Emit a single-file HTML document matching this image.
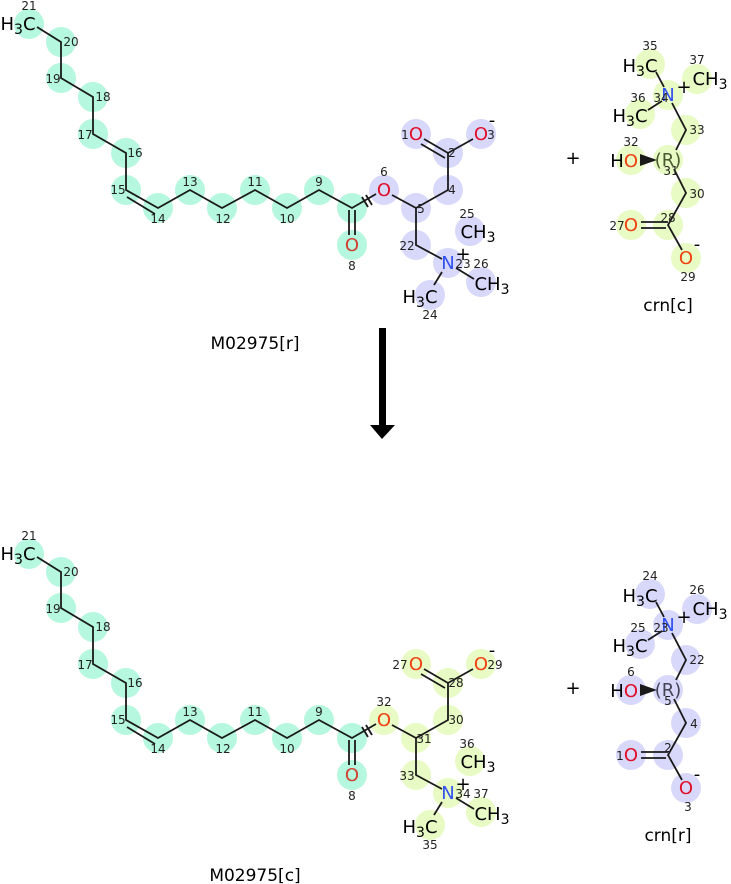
<!DOCTYPE html>
<html><head><meta charset="utf-8"><style>
html,body{margin:0;padding:0;background:#fff;}
svg{display:block;font-family:"DejaVu Sans","Liberation Sans",sans-serif;}
.b{stroke:#1a1a1a;stroke-width:1.8;fill:none;}
.n{font-size:12px;fill:#222;text-anchor:middle;}
.a{font-size:18px;fill:#000;text-anchor:middle;}
.o{fill:#e0102a;}
.oo{fill:#f04010;}
.nn{fill:#3050f0;}
.t{font-size:17px;fill:#000;text-anchor:middle;}
</style></head><body>
<svg width="731" height="884" viewBox="0 0 731 884" xmlns="http://www.w3.org/2000/svg">
<!-- ===== TOP MOLECULE ===== -->
<g>
<g fill="#b5f7df">
<circle cx="29" cy="24" r="15"/><circle cx="61" cy="42" r="15"/><circle cx="61" cy="78" r="15"/><circle cx="93" cy="97" r="15"/><circle cx="93" cy="134" r="15"/><circle cx="126" cy="153" r="15"/><circle cx="126" cy="190" r="15"/><circle cx="158" cy="208" r="15"/><circle cx="190" cy="190" r="15"/><circle cx="222" cy="208" r="15"/><circle cx="255" cy="190" r="15"/><circle cx="287" cy="208" r="15"/><circle cx="319" cy="190" r="15"/><circle cx="352" cy="208" r="15"/><circle cx="352" cy="245" r="15"/>
</g>
<g fill="#d8d8fa">
<circle cx="384" cy="190" r="15"/><circle cx="416" cy="208" r="15"/><circle cx="448" cy="190" r="15"/><circle cx="448" cy="153" r="15"/><circle cx="416" cy="134" r="15"/><circle cx="481" cy="134" r="15"/><circle cx="416" cy="245" r="15"/><circle cx="448" cy="263" r="15"/><circle cx="470" cy="231" r="15"/><circle cx="481" cy="282" r="15"/><circle cx="430" cy="295" r="15"/>
</g>
<polyline class="b" points="37,27 61,42 61,78 93,97 93,134 126,153 126,190 158,208 190,190 222,208 255,190 287,208 319,190 352,208 376,194"/>
<line class="b" x1="127" y1="197" x2="155" y2="214"/>
<line class="b" x1="349" y1="210" x2="349" y2="235"/><line class="b" x1="355" y1="210" x2="355" y2="235"/>
<line class="b" x1="362" y1="197" x2="368" y2="207"/><line class="b" x1="366" y1="195" x2="372" y2="205"/>
<polyline class="b" points="392,195 416,208 448,190 448,153 473,139"/>
<line class="b" x1="448" y1="153" x2="424" y2="139"/><line class="b" x1="445" y1="158" x2="421" y2="144"/>
<polyline class="b" points="416,208 416,245 442,259"/>
<line class="b" x1="442" y1="272" x2="434" y2="285"/>
<line class="b" x1="456" y1="268" x2="474" y2="279"/>
<text class="a" x="18" y="30">H<tspan font-size="14" dy="4">3</tspan><tspan dy="-4">C</tspan></text>
<text class="a o" x="416" y="140">O</text><text class="a o" x="481" y="140">O</text>
<text class="a" x="492" y="126" font-size="16">-</text>
<text class="a o" x="384" y="196">O</text>
<text class="a" style="fill:#d04030" x="352" y="251">O</text>
<text class="a nn" x="448" y="269">N</text>
<text class="a" x="463" y="260" font-size="18">+</text>
<text class="a" x="478" y="238">CH<tspan font-size="14" dy="4">3</tspan></text>
<text class="a" x="492" y="290">CH<tspan font-size="14" dy="4">3</tspan></text>
<text class="a" x="420" y="303">H<tspan font-size="14" dy="4">3</tspan><tspan dy="-4">C</tspan></text>
<g class="n">
<text x="29" y="10">21</text><text x="71" y="46">20</text><text x="53" y="83">19</text><text x="103" y="101">18</text><text x="85" y="139">17</text><text x="135" y="157">16</text><text x="118" y="194">15</text><text x="158" y="223">14</text><text x="190" y="186">13</text><text x="223" y="223">12</text><text x="255" y="186">11</text><text x="287" y="223">10</text><text x="319" y="186">9</text><text x="352" y="270">8</text><text x="384" y="176">6</text><text x="421" y="213">5</text><text x="452" y="194">4</text><text x="452" y="157">2</text><text x="405" y="139">1</text><text x="491" y="139">3</text><text x="467" y="218">25</text><text x="407" y="250">22</text><text x="463" y="268">23</text><text x="481" y="268">26</text><text x="430" y="319">24</text>
</g>
<text class="t" x="255" y="349">M02975[r]</text>
</g>

<!-- crn[c] -->
<text class="a" x="573" y="164" font-size="24">+</text>
<g fill="#e8fbc4">
<circle cx="650" cy="64" r="15"/><circle cx="697" cy="79" r="15"/><circle cx="668" cy="95" r="15"/><circle cx="640" cy="114" r="15"/><circle cx="686" cy="130" r="15"/><circle cx="668" cy="160" r="15"/><circle cx="631" cy="160" r="15"/><circle cx="686" cy="193" r="15"/><circle cx="668" cy="225" r="15"/><circle cx="631" cy="225" r="15"/><circle cx="686" cy="258" r="15"/>
</g>
<line class="b" x1="656" y1="72" x2="664" y2="87"/>
<line class="b" x1="648" y1="110" x2="662" y2="101"/>
<polyline class="b" points="672,103 686,130 676,150"/>
<polyline class="b" points="674,169 686,193 668,225 682,250"/>
<line class="b" x1="641" y1="222" x2="668" y2="222"/><line class="b" x1="641" y1="228" x2="666" y2="228"/>
<polygon points="640,154 640,166 657,160" fill="#1a1a1a"/>
<text class="a" x="640" y="72">H<tspan font-size="14" dy="4">3</tspan><tspan dy="-4">C</tspan></text>
<text class="a" x="630" y="122">H<tspan font-size="14" dy="4">3</tspan><tspan dy="-4">C</tspan></text>
<text class="a nn" x="668" y="101">N</text>
<text class="a" x="684" y="93">+</text>
<text class="a" x="710" y="85">CH<tspan font-size="14" dy="4">3</tspan></text>
<text class="a" x="617" y="167" style="fill:#000">H</text><text class="a oo" x="631" y="167">O</text>
<text class="a" x="668" y="166" font-size="16" style="fill:#4a5a30">(R)</text>
<text class="a oo" x="631" y="231">O</text><text class="a oo" x="686" y="264">O</text>
<text class="a" x="697" y="250" font-size="16">-</text>
<g class="n">
<text x="650" y="50">35</text><text x="697" y="64">37</text><text x="638" y="102">36</text><text x="661" y="102">34</text><text x="697" y="134">33</text><text x="631" y="146">32</text><text x="671" y="175">31</text><text x="697" y="198">30</text><text x="668" y="222">28</text><text x="617" y="230">27</text><text x="688" y="281">29</text>
</g>
<text class="t" x="668" y="311">crn[c]</text>

<!-- arrow -->
<rect x="379" y="328" width="7" height="99" fill="#000"/>
<polygon points="370,425 395,425 382,439" fill="#000"/>

<!-- ===== BOTTOM MOLECULE ===== -->
<g transform="translate(0,530)">
<g fill="#b5f7df">
<circle cx="29" cy="24" r="15"/><circle cx="61" cy="42" r="15"/><circle cx="61" cy="78" r="15"/><circle cx="93" cy="97" r="15"/><circle cx="93" cy="134" r="15"/><circle cx="126" cy="153" r="15"/><circle cx="126" cy="190" r="15"/><circle cx="158" cy="208" r="15"/><circle cx="190" cy="190" r="15"/><circle cx="222" cy="208" r="15"/><circle cx="255" cy="190" r="15"/><circle cx="287" cy="208" r="15"/><circle cx="319" cy="190" r="15"/><circle cx="352" cy="208" r="15"/><circle cx="352" cy="245" r="15"/>
</g>
<g fill="#e8fbc4">
<circle cx="384" cy="190" r="15"/><circle cx="416" cy="208" r="15"/><circle cx="448" cy="190" r="15"/><circle cx="448" cy="153" r="15"/><circle cx="416" cy="134" r="15"/><circle cx="481" cy="134" r="15"/><circle cx="416" cy="245" r="15"/><circle cx="448" cy="263" r="15"/><circle cx="470" cy="231" r="15"/><circle cx="481" cy="282" r="15"/><circle cx="430" cy="295" r="15"/>
</g>
<polyline class="b" points="37,27 61,42 61,78 93,97 93,134 126,153 126,190 158,208 190,190 222,208 255,190 287,208 319,190 352,208 376,194"/>
<line class="b" x1="127" y1="197" x2="155" y2="214"/>
<line class="b" x1="349" y1="210" x2="349" y2="235"/><line class="b" x1="355" y1="210" x2="355" y2="235"/>
<line class="b" x1="362" y1="197" x2="368" y2="207"/><line class="b" x1="366" y1="195" x2="372" y2="205"/>
<polyline class="b" points="392,195 416,208 448,190 448,153 473,139"/>
<line class="b" x1="448" y1="153" x2="424" y2="139"/><line class="b" x1="445" y1="158" x2="421" y2="144"/>
<polyline class="b" points="416,208 416,245 442,259"/>
<line class="b" x1="442" y1="272" x2="434" y2="285"/>
<line class="b" x1="456" y1="268" x2="474" y2="279"/>
<text class="a" x="18" y="30">H<tspan font-size="14" dy="4">3</tspan><tspan dy="-4">C</tspan></text>
<text class="a oo" x="416" y="140">O</text><text class="a oo" x="481" y="140">O</text>
<text class="a" x="492" y="126" font-size="16">-</text>
<text class="a oo" x="384" y="196">O</text>
<text class="a" style="fill:#d04030" x="352" y="251">O</text>
<text class="a nn" x="448" y="269">N</text>
<text class="a" x="463" y="260" font-size="18">+</text>
<text class="a" x="478" y="238">CH<tspan font-size="14" dy="4">3</tspan></text>
<text class="a" x="492" y="290">CH<tspan font-size="14" dy="4">3</tspan></text>
<text class="a" x="420" y="303">H<tspan font-size="14" dy="4">3</tspan><tspan dy="-4">C</tspan></text>
<g class="n">
<text x="29" y="10">21</text><text x="71" y="46">20</text><text x="53" y="83">19</text><text x="103" y="101">18</text><text x="85" y="139">17</text><text x="135" y="157">16</text><text x="118" y="194">15</text><text x="158" y="223">14</text><text x="190" y="186">13</text><text x="223" y="223">12</text><text x="255" y="186">11</text><text x="287" y="223">10</text><text x="319" y="186">9</text><text x="352" y="270">8</text><text x="384" y="176">32</text><text x="424" y="213">31</text><text x="456" y="194">30</text><text x="456" y="157">28</text><text x="400" y="139">27</text><text x="495" y="139">29</text><text x="467" y="218">36</text><text x="407" y="250">33</text><text x="463" y="268">34</text><text x="481" y="268">37</text><text x="430" y="319">35</text>
</g>
<text class="t" x="255" y="351">M02975[c]</text>
</g>

<!-- crn[r] -->
<text class="a" x="573" y="694" font-size="24">+</text>
<g transform="translate(0,530)">
<g fill="#d8d8fa">
<circle cx="650" cy="64" r="15"/><circle cx="697" cy="79" r="15"/><circle cx="668" cy="95" r="15"/><circle cx="640" cy="114" r="15"/><circle cx="686" cy="130" r="15"/><circle cx="668" cy="160" r="15"/><circle cx="631" cy="160" r="15"/><circle cx="686" cy="193" r="15"/><circle cx="668" cy="225" r="15"/><circle cx="631" cy="225" r="15"/><circle cx="686" cy="258" r="15"/>
</g>
<line class="b" x1="656" y1="72" x2="664" y2="87"/>
<line class="b" x1="648" y1="110" x2="662" y2="101"/>
<polyline class="b" points="672,103 686,130 676,150"/>
<polyline class="b" points="674,169 686,193 668,225 682,250"/>
<line class="b" x1="641" y1="222" x2="668" y2="222"/><line class="b" x1="641" y1="228" x2="666" y2="228"/>
<polygon points="640,154 640,166 657,160" fill="#1a1a1a"/>
<text class="a" x="640" y="72">H<tspan font-size="14" dy="4">3</tspan><tspan dy="-4">C</tspan></text>
<text class="a" x="630" y="122">H<tspan font-size="14" dy="4">3</tspan><tspan dy="-4">C</tspan></text>
<text class="a nn" x="668" y="101">N</text>
<text class="a" x="684" y="93">+</text>
<text class="a" x="710" y="85">CH<tspan font-size="14" dy="4">3</tspan></text>
<text class="a" x="617" y="167">H</text><text class="a o" x="631" y="167">O</text>
<text class="a" x="668" y="166" font-size="16" style="fill:#445">(R)</text>
<text class="a o" x="631" y="231">O</text><text class="a o" x="686" y="264">O</text>
<text class="a" x="697" y="250" font-size="16">-</text>
<g class="n">
<text x="650" y="50">24</text><text x="697" y="64">26</text><text x="638" y="102">25</text><text x="661" y="102">23</text><text x="697" y="134">22</text><text x="631" y="146">6</text><text x="668" y="175">5</text><text x="694" y="198">4</text><text x="668" y="222">2</text><text x="620" y="230">1</text><text x="688" y="281">3</text>
</g>
<text class="t" x="668" y="311">crn[r]</text>
</g>
</svg>
</body></html>
